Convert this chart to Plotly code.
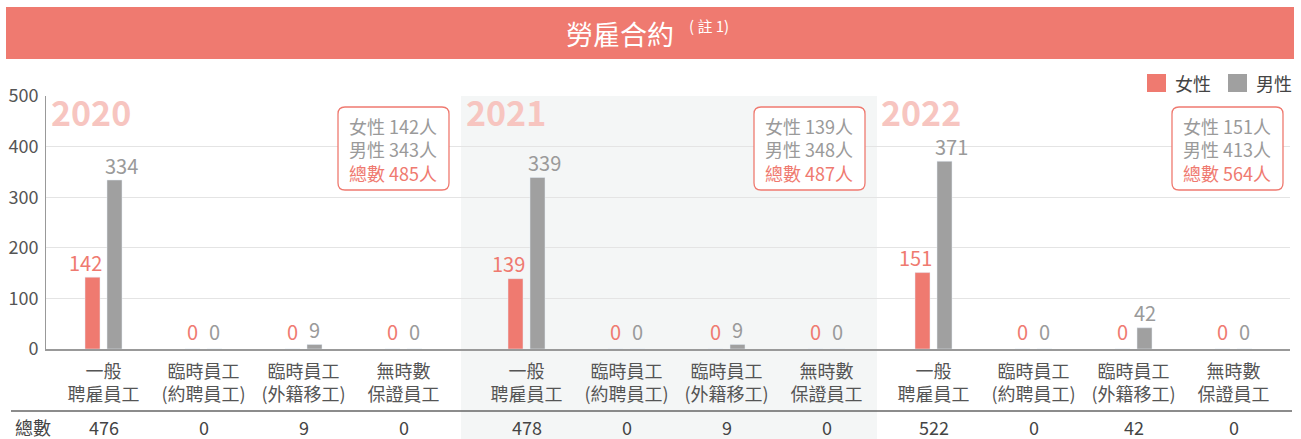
import plotly.graph_objects as go

# ---------------- data ----------------
categories = ["一般<br>聘雇員工", "臨時員工<br>(約聘員工)", "臨時員工<br>(外籍移工)", "無時數<br>保證員工"]
years = ["2020", "2021", "2022"]
female_2020 = [142, 0, 0, 0]
male_2020 = [334, 0, 9, 0]
female_2021 = [139, 0, 0, 0]
male_2021 = [339, 0, 9, 0]
female_2022 = [151, 0, 0, 0]
male_2022 = [371, 0, 42, 0]
totals_2020 = [476, 0, 9, 0]
totals_2021 = [478, 0, 9, 0]
totals_2022 = [522, 0, 42, 0]
summary_female = [142, 139, 151]
summary_male = [343, 348, 413]
summary_total = [485, 487, 564]

# ---------------- style ----------------
RED = "#EF7A70"
GRAY = "#A0A0A0"
LABEL_GRAY = "#9A9A9A"
FONT = "Noto Sans CJK TC, Noto Sans, sans-serif"
W, H = 1301, 439
ML, MR, MT, MB = 46, 11, 96, 90
PW = W - ML - MR
PH = H - MT - MB


def px2x(px):
    return (px - ML) / PW


def px2y(py):
    return (MT + PH - py) / PH


females = [female_2020, female_2021, female_2022]
males = [male_2020, male_2021, male_2022]
totals = [totals_2020, totals_2021, totals_2022]

# panel geometry (pixels): left edge, right edge, first category centre
panels = [(46, 464.5, 103.5), (464.5, 880, 526.5), (880, 1290, 933.5)]
axnames = ["x", "x2", "x3"]

fig = go.Figure()
for i in range(3):
    fig.add_trace(go.Bar(
        x=categories, y=females[i], name="女性", marker_color=RED,
        xaxis=axnames[i], yaxis="y", showlegend=False, hoverinfo="skip"))
    fig.add_trace(go.Bar(
        x=categories, y=males[i], name="男性", marker_color=GRAY,
        xaxis=axnames[i], yaxis="y", showlegend=False, hoverinfo="skip"))

layout = dict(
    width=W, height=H,
    margin=dict(l=ML, r=MR, t=MT, b=MB, autoexpand=False),
    paper_bgcolor="white", plot_bgcolor="rgba(0,0,0,0)",
    font=dict(family=FONT, color="#555"),
    barmode="group", bargap=0.56, bargroupgap=0.318,
    showlegend=False,
    yaxis=dict(range=[0, 500], dtick=100, showgrid=True, gridcolor="#E4E4E4",
               gridwidth=1, zeroline=False, showline=True, linecolor="#999",
               linewidth=1, ticks="", tickfont=dict(size=18, color="#555"),
               ticklabelstandoff=3, anchor="x", automargin=False),
)
for i, (l, r, c0) in enumerate(panels):
    key = "xaxis" if i == 0 else f"xaxis{i+1}"
    layout[key] = dict(
        domain=[px2x(l), px2x(r)],
        range=[(l - c0) / 100, (r - c0) / 100],
        type="category",
        showline=True, linecolor="#999", linewidth=2,
        showgrid=False, zeroline=False, ticks="",
        tickfont=dict(size=18, color="#555"),
        ticklabelstandoff=5,
        anchor="y", automargin=False,
    )
fig.update_layout(**layout)

shapes = []
annotations = []

# value labels above bars (3-digit labels nudged outward as in the original)
for i in range(3):
    for j, cat in enumerate(categories):
        for vals, color, side in [(females[i], RED, -1), (males[i], LABEL_GRAY, 1)]:
            v = vals[j]
            shift = side * (11 + (7 if v >= 100 else 0))
            annotations.append(dict(
                xref=axnames[i], yref="y", x=cat, y=v, text=str(v),
                showarrow=False, xanchor="center", yanchor="middle",
                xshift=shift, yshift=18 if v == 0 else 15,
                font=dict(size=20, color=color, family=FONT)))

# 2021 shaded band
shapes.append(dict(type="rect", xref="paper", yref="paper", layer="below",
                   x0=px2x(461), x1=px2x(877), y0=px2y(439), y1=px2y(96),
                   fillcolor="#F4F6F6", line=dict(width=0)))
# title banner
shapes.append(dict(type="rect", xref="paper", yref="paper",
                   x0=px2x(6), x1=px2x(1294), y0=px2y(59), y1=px2y(7),
                   fillcolor=RED, line=dict(width=0)))
annotations.append(dict(xref="paper", yref="paper", x=px2x(620), y=px2y(33),
                        text="勞雇合約", showarrow=False,
                        font=dict(size=27, color="white", family=FONT),
                        xanchor="center", yanchor="middle"))
annotations.append(dict(xref="paper", yref="paper", x=px2x(687), y=px2y(25),
                        text="( 註 1)", showarrow=False,
                        font=dict(size=15, color="white", family=FONT),
                        xanchor="left", yanchor="middle"))

# legend
for (x0, x1, color, label, tx) in [(1147, 1166, RED, "女性", 1173),
                                  (1228, 1247, GRAY, "男性", 1254)]:
    shapes.append(dict(type="rect", xref="paper", yref="paper",
                       x0=px2x(x0), x1=px2x(x1), y0=px2y(92), y1=px2y(74),
                       fillcolor=color, line=dict(width=0)))
    annotations.append(dict(xref="paper", yref="paper", x=px2x(tx), y=px2y(83),
                            text=label, showarrow=False, xanchor="left",
                            yanchor="middle",
                            font=dict(size=18, color="#444", family=FONT)))

# year labels
for i, yr in enumerate(years):
    lx = [49, 464, 879][i]
    annotations.append(dict(xref="paper", yref="paper", x=px2x(lx), y=px2y(111),
                            text=f"<b>{yr}</b>", showarrow=False,
                            xanchor="left", yanchor="middle",
                            font=dict(size=34, color="#F7C5C0", family=FONT)))


def rounded(x0, y0, x1, y1, r):
    def P(px, py):
        return f"{px2x(px):.5f},{px2y(py):.5f}"
    return (f"M {P(x0 + r, y0)} L {P(x1 - r, y0)} Q {P(x1, y0)} {P(x1, y0 + r)} "
            f"L {P(x1, y1 - r)} Q {P(x1, y1)} {P(x1 - r, y1)} "
            f"L {P(x0 + r, y1)} Q {P(x0, y1)} {P(x0, y1 - r)} "
            f"L {P(x0, y0 + r)} Q {P(x0, y0)} {P(x0 + r, y0)} Z")


# summary boxes
box_x = [(338, 449), (754, 865), (1172, 1283)]
for i in range(3):
    bx0, bx1 = box_x[i]
    shapes.append(dict(type="path", xref="paper", yref="paper",
                       path=rounded(bx0, 107, bx1, 190, 7),
                       fillcolor="white", line=dict(color=RED, width=1.3)))
    txt = (f"<span style='color:{LABEL_GRAY}'>女性 {summary_female[i]}人</span><br>"
           f"<span style='color:{LABEL_GRAY}'>男性 {summary_male[i]}人</span><br>"
           f"<span style='color:{RED}'>總數 {summary_total[i]}人</span>")
    annotations.append(dict(xref="paper", yref="paper", x=px2x(bx0 + 9),
                            y=px2y(149.5), text=txt, showarrow=False,
                            xanchor="left", yanchor="middle", align="left",
                            font=dict(size=18, family=FONT)))

# table separator line
shapes.append(dict(type="line", xref="paper", yref="paper",
                   x0=px2x(11), x1=px2x(1292), y0=px2y(411), y1=px2y(411),
                   line=dict(color="#666", width=1.5)))
annotations.append(dict(xref="paper", yref="paper", x=px2x(33), y=px2y(427),
                        text="總數", showarrow=False, xanchor="center",
                        yanchor="middle",
                        font=dict(size=18, color="#444", family=FONT)))
for i in range(3):
    for j, cat in enumerate(categories):
        annotations.append(dict(xref=axnames[i], yref="paper", x=cat,
                                y=px2y(427), text=str(totals[i][j]),
                                showarrow=False, xanchor="center",
                                yanchor="middle",
                                font=dict(size=18, color="#444", family=FONT)))

fig.update_layout(shapes=shapes, annotations=annotations)
fig.write_html("out.html", config={"displayModeBar": False},
               post_script="document.body.style.margin='0';document.body.style.overflow='hidden';")
